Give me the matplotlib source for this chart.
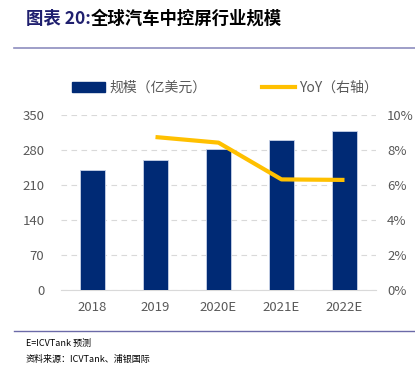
import matplotlib
matplotlib.use("Agg")
import matplotlib.pyplot as plt
from matplotlib.lines import Line2D
from matplotlib.patches import Patch

plt.rcParams['font.family'] = ['Noto Sans CJK SC', 'DejaVu Sans']

categories = ["2018", "2019", "2020E", "2021E", "2022E"]
scale = [240, 260, 282, 300, 319]
yoy_cats = ["2019", "2020E", "2021E", "2022E"]
yoy = [8.74, 8.42, 6.32, 6.29]
left_ticks = [0, 70, 140, 210, 280, 350]
right_ticks = [0, 2, 4, 6, 8, 10]

navy = "#002A75"
gold = "#FFC000"
gray = "#595959"

fig = plt.figure(figsize=(4.15, 3.67), dpi=100)
ax = fig.add_axes([61/415, 1-290/367, (376-61)/415, 175/367])
x = list(range(len(categories)))
ax.bar(x, scale, width=0.4, color=navy, edgecolor="#C9D3E8", linewidth=0.6, zorder=3)
ax.set_xlim(-0.5, len(categories)-0.5)
ax.set_ylim(0, 350)
ax.set_yticks(left_ticks)
ax.set_xticks(x)
ax.set_xticklabels(categories)
ax.yaxis.grid(True, color="#D9D9D9", linestyle=(0, (5, 4)), linewidth=0.8, zorder=0)
for s in ["top", "right", "left"]:
    ax.spines[s].set_visible(False)
ax.spines["bottom"].set_color("#D9D9D9")
ax.tick_params(axis="both", length=0, colors=gray, labelsize=9.5)
ax.tick_params(axis="y", pad=12)
ax.tick_params(axis="x", pad=8)

ax2 = ax.twinx()
xi = [categories.index(c) for c in yoy_cats]
ax2.plot(xi, yoy, color=gold, linewidth=3, solid_capstyle="butt", zorder=4)
ax2.set_ylim(0, 10)
ax2.set_yticks(right_ticks)
ax2.set_yticklabels([f"{t}%" for t in right_ticks])
for s in ["top", "right", "left", "bottom"]:
    ax2.spines[s].set_visible(False)
ax2.tick_params(axis="y", length=0, colors=gray, labelsize=9.5, pad=8)

handles = [Patch(facecolor=navy, edgecolor=navy), Line2D([0], [0], color=gold, linewidth=3)]
fig.legend(handles, ["规模（亿美元）", "YoY（右轴）"], loc="center", bbox_to_anchor=(0.542, 1-88/367),
           ncol=2, frameon=False, fontsize=10, labelcolor=gray, handlelength=2.4,
           handletextpad=0.3, columnspacing=4.0)

fig.text(26/415, 1-19/367, "图表 20:", fontsize=12.5, fontweight="bold", color="#1F1F6E", va="center")
fig.text(91/415, 1-19/367, "全球汽车中控屏行业规模", fontsize=12.5, fontweight="bold", color="black", va="center")
fig.add_artist(Line2D([14/415, 1], [1-48/367, 1-48/367], color="#8E8DBF", linewidth=1.2))
fig.add_artist(Line2D([14/415, 1], [1-331/367, 1-331/367], color="#6B6AA8", linewidth=1.0))
fig.text(26/415, 1-343/367, "E=ICVTank 预测", fontsize=6.5, color="black", va="center")
fig.text(26/415, 1-359/367, "资料来源：ICVTank、浦银国际", fontsize=6.5, color="black", va="center")

fig.savefig("out.png", dpi=100)
